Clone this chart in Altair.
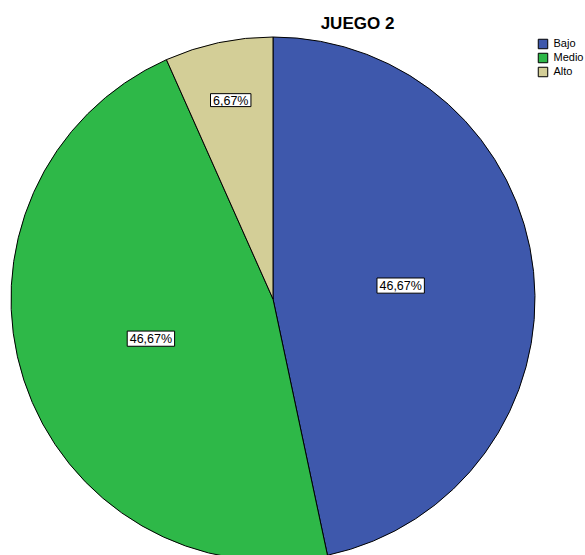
import altair as alt
import pandas as pd

categories = ["Bajo", "Medio", "Alto"]
counts = [7, 7, 1]
colors = ["#3E58AC", "#2EB848", "#D3CE97"]
chart_title = ["JUEGO 2"]

df = pd.DataFrame({"category": categories, "count": counts, "idx": list(range(len(categories)))})
title_df = pd.DataFrame({"t": chart_title})

FONT = "Liberation Sans"

base = alt.Chart(df)

pie = base.mark_arc(outerRadius=262, stroke="black", strokeWidth=1).encode(
    theta=alt.Theta("count:Q", stack=True),
    order=alt.Order("idx:Q"),
    x=alt.value(273),
    y=alt.value(299),
    color=alt.Color(
        "category:N",
        scale=alt.Scale(domain=categories, range=colors),
        legend=alt.Legend(
            title=None,
            orient="none",
            legendX=537.5,
            legendY=38.5,
            symbolType="square",
            symbolSize=90,
            symbolStrokeColor="black",
            symbolStrokeWidth=1,
            symbolOpacity=1,
            labelFontSize=11,
            labelFont=FONT,
            labelColor="black",
            labelOffset=5,
            rowPadding=-1,
            padding=0,
        ),
    ),
)

lab = base.transform_joinaggregate(total="sum(count)").transform_window(
    cum="sum(count)", sort=[alt.SortField("idx")], frame=[None, 0]
).transform_calculate(
    share="datum.count / datum.total",
    mid="(datum.cum - datum.count / 2) / datum.total * 2 * PI",
).transform_calculate(
    rr="datum.share < 0.1 ? 0.776 : 0.49",
).transform_calculate(
    lx="datum.rr * sin(datum.mid)",
    ly="datum.rr * cos(datum.mid)",
    label="replace(format(datum.share * 100, '.2f'), '.', ',') + '%'",
).transform_calculate(
    bw="12.5 * (0.556 * (length(datum.label) - 2) + 1.167) + 5",
).transform_calculate(
    bsize="datum.bw * datum.bw",
)

xs = alt.X("lx:Q", scale=alt.Scale(domain=[-1, 1], range=[11, 535]), axis=None)
ys = alt.Y("ly:Q", scale=alt.Scale(domain=[-1, 1], range=[561, 37]), axis=None)

boxes = lab.mark_point(
    shape="M-1,-0.32L1,-0.32L1,0.32L-1,0.32Z",
    filled=True,
    fill="white",
    stroke="black",
    strokeWidth=1,
    opacity=1,
).encode(x=xs, y=ys, size=alt.Size("bsize:Q", scale=None, legend=None))

texts = lab.mark_text(
    font=FONT, fontSize=12.5, color="black", align="center", baseline="middle", dy=0.5
).encode(x=xs, y=ys, text="label:N")

title = alt.Chart(title_df).mark_text(
    font=FONT, fontSize=17, fontWeight="bold", color="black", align="center", baseline="alphabetic"
).encode(x=alt.value(357.5), y=alt.value(28.5), text="t:N")

chart = alt.layer(pie, boxes, texts, title).properties(
    width=585, height=555, padding=0, autosize="none"
).configure_view(stroke=None).resolve_scale(size="independent")

chart.save("out.html", embed_options={"renderer": "svg", "actions": False})
